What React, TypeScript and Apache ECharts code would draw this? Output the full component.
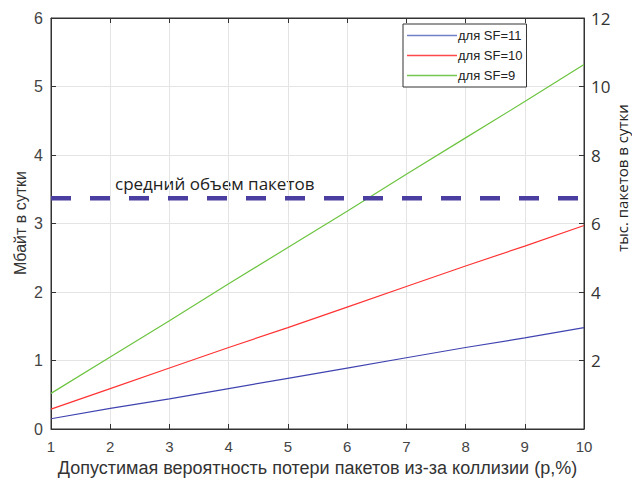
import React, { useEffect, useRef } from "react";
import * as echarts from "echarts";

const xValues = [1, 2, 3, 4, 5, 6, 7, 8, 9, 10];
const sf11 = [0.15, 0.3, 0.44, 0.59, 0.74, 0.89, 1.04, 1.19, 1.33, 1.48];
const sf10 = [0.29, 0.59, 0.89, 1.19, 1.48, 1.78, 2.08, 2.38, 2.67, 2.97];
const sf9 = [0.52, 1.05, 1.58, 2.12, 2.65, 3.18, 3.72, 4.25, 4.78, 5.32];
const avgVolume = 3.37;
const seriesNames = ["для SF=11", "для SF=10", "для SF=9"];
const seriesColors = ["#4044b0", "#ff3333", "#6cc440"];
const legendColors = ["#7080c8", "#ff4848", "#74c850"];
const avgLabel = "средний объем пакетов";

export default function App() {
  const ref = useRef<HTMLDivElement>(null);
  useEffect(() => {
    if (!ref.current) return;
    const chart = echarts.init(ref.current, null, { renderer: "svg" });
    const tickFont = { fontFamily: "Liberation Sans", fontSize: 15, color: "#444" };
    const allData = [sf11, sf10, sf9];
    chart.setOption({
      animation: false,
      backgroundColor: "#fff",
      grid: { left: 51, right: 48, top: 18, bottom: 51, show: true, borderColor: "#333", borderWidth: 1, backgroundColor: "#fff" },
      legend: {
        left: 403,
        top: 24,
        orient: "vertical",
        data: seriesNames.map((n, i) => ({ name: n, itemStyle: { color: legendColors[i] } })),
        icon: "rect",
        itemWidth: 50,
        itemHeight: 1.5,
        itemGap: 7,
        padding: [5, 4, 5, 4],
        borderColor: "#333",
        borderWidth: 1,
        backgroundColor: "#fff",
        textStyle: { fontFamily: "Liberation Sans", fontSize: 13, color: "#222", padding: [0, 0, 0, -4] },
      },
      xAxis: [
        {
          type: "value",
          min: 1,
          max: 10,
          interval: 1,
          name: "Допустимая вероятность потери пакетов из-за коллизии (р,%)",
          nameLocation: "middle",
          nameGap: 30,
          nameTextStyle: { fontFamily: "Liberation Sans", fontSize: 18, color: "#333" },
          axisLine: { show: true, onZero: false, lineStyle: { color: "#333" } },
          axisTick: { show: true, inside: true, length: 5, lineStyle: { color: "#333" } },
          axisLabel: { ...tickFont, margin: 10 },
          splitLine: { show: true, lineStyle: { color: "#e4e4e4" } },
        },
        {
          type: "value",
          position: "top",
          min: 1,
          max: 10,
          interval: 1,
          axisLine: { show: true, onZero: false, lineStyle: { color: "#333" } },
          axisTick: { show: true, inside: true, length: 5, lineStyle: { color: "#333" } },
          axisLabel: { show: false },
          splitLine: { show: false },
        },
      ],
      yAxis: [
        {
          type: "value",
          min: 0,
          max: 6,
          interval: 1,
          axisLine: { show: true, onZero: false, lineStyle: { color: "#333" } },
          axisTick: { show: true, inside: true, length: 5, lineStyle: { color: "#333" } },
          axisLabel: { ...tickFont, fontSize: 16, margin: 8 },
          splitLine: { show: true, lineStyle: { color: "#e4e4e4" } },
        },
        {
          type: "value",
          position: "right",
          min: 0,
          max: 12,
          interval: 2,
          axisLine: { show: true, onZero: false, lineStyle: { color: "#333" } },
          axisTick: { show: true, inside: true, length: 5, lineStyle: { color: "#333" } },
          axisLabel: { fontFamily: "Open Sans", fontSize: 17, color: "#333", margin: 7, formatter: (v: number) => (v === 0 ? "" : String(v)) },
          splitLine: { show: false },
        },
      ],
      graphic: [
        {
          type: "text",
          x: 20,
          y: 223,
          rotation: Math.PI / 2,
          style: { text: "Мбайт в сутки", font: "16px 'Liberation Sans'", fill: "#333", align: "center", verticalAlign: "middle" },
        },
        {
          type: "text",
          x: 115,
          y: 183,
          style: { text: avgLabel, font: "17px 'Open Sans'", fill: "#222", verticalAlign: "middle" },
        },
        {
          type: "text",
          x: 622,
          y: 178,
          rotation: Math.PI / 2,
          style: { text: "тыс. пакетов в сутки", font: "15px 'Open Sans'", fill: "#222", align: "center", verticalAlign: "middle" },
        },
      ],
      series: [
        ...allData.map((d, i) => ({
          name: seriesNames[i],
          type: "line",
          xAxisIndex: 0,
          yAxisIndex: 0,
          showSymbol: false,
          symbol: "none",
          itemStyle: { color: seriesColors[i] },
          lineStyle: { width: 1.2, color: seriesColors[i] },
          data: xValues.map((x, j) => [x, d[j]]),
        })),
        {
          name: "avg",
          type: "line",
          symbol: "none",
          xAxisIndex: 0,
          yAxisIndex: 0,
          lineStyle: { width: 4.5, color: "#4a3fa0", type: [20, 19], cap: "butt" },
          data: [
            [xValues[0], avgVolume],
            [xValues[xValues.length - 1], avgVolume],
          ],
        },
      ],
    });
    return () => chart.dispose();
  }, []);
  return <div ref={ref} style={{ position: "fixed", left: 0, top: 0, width: 632, height: 482 }} />;
}
